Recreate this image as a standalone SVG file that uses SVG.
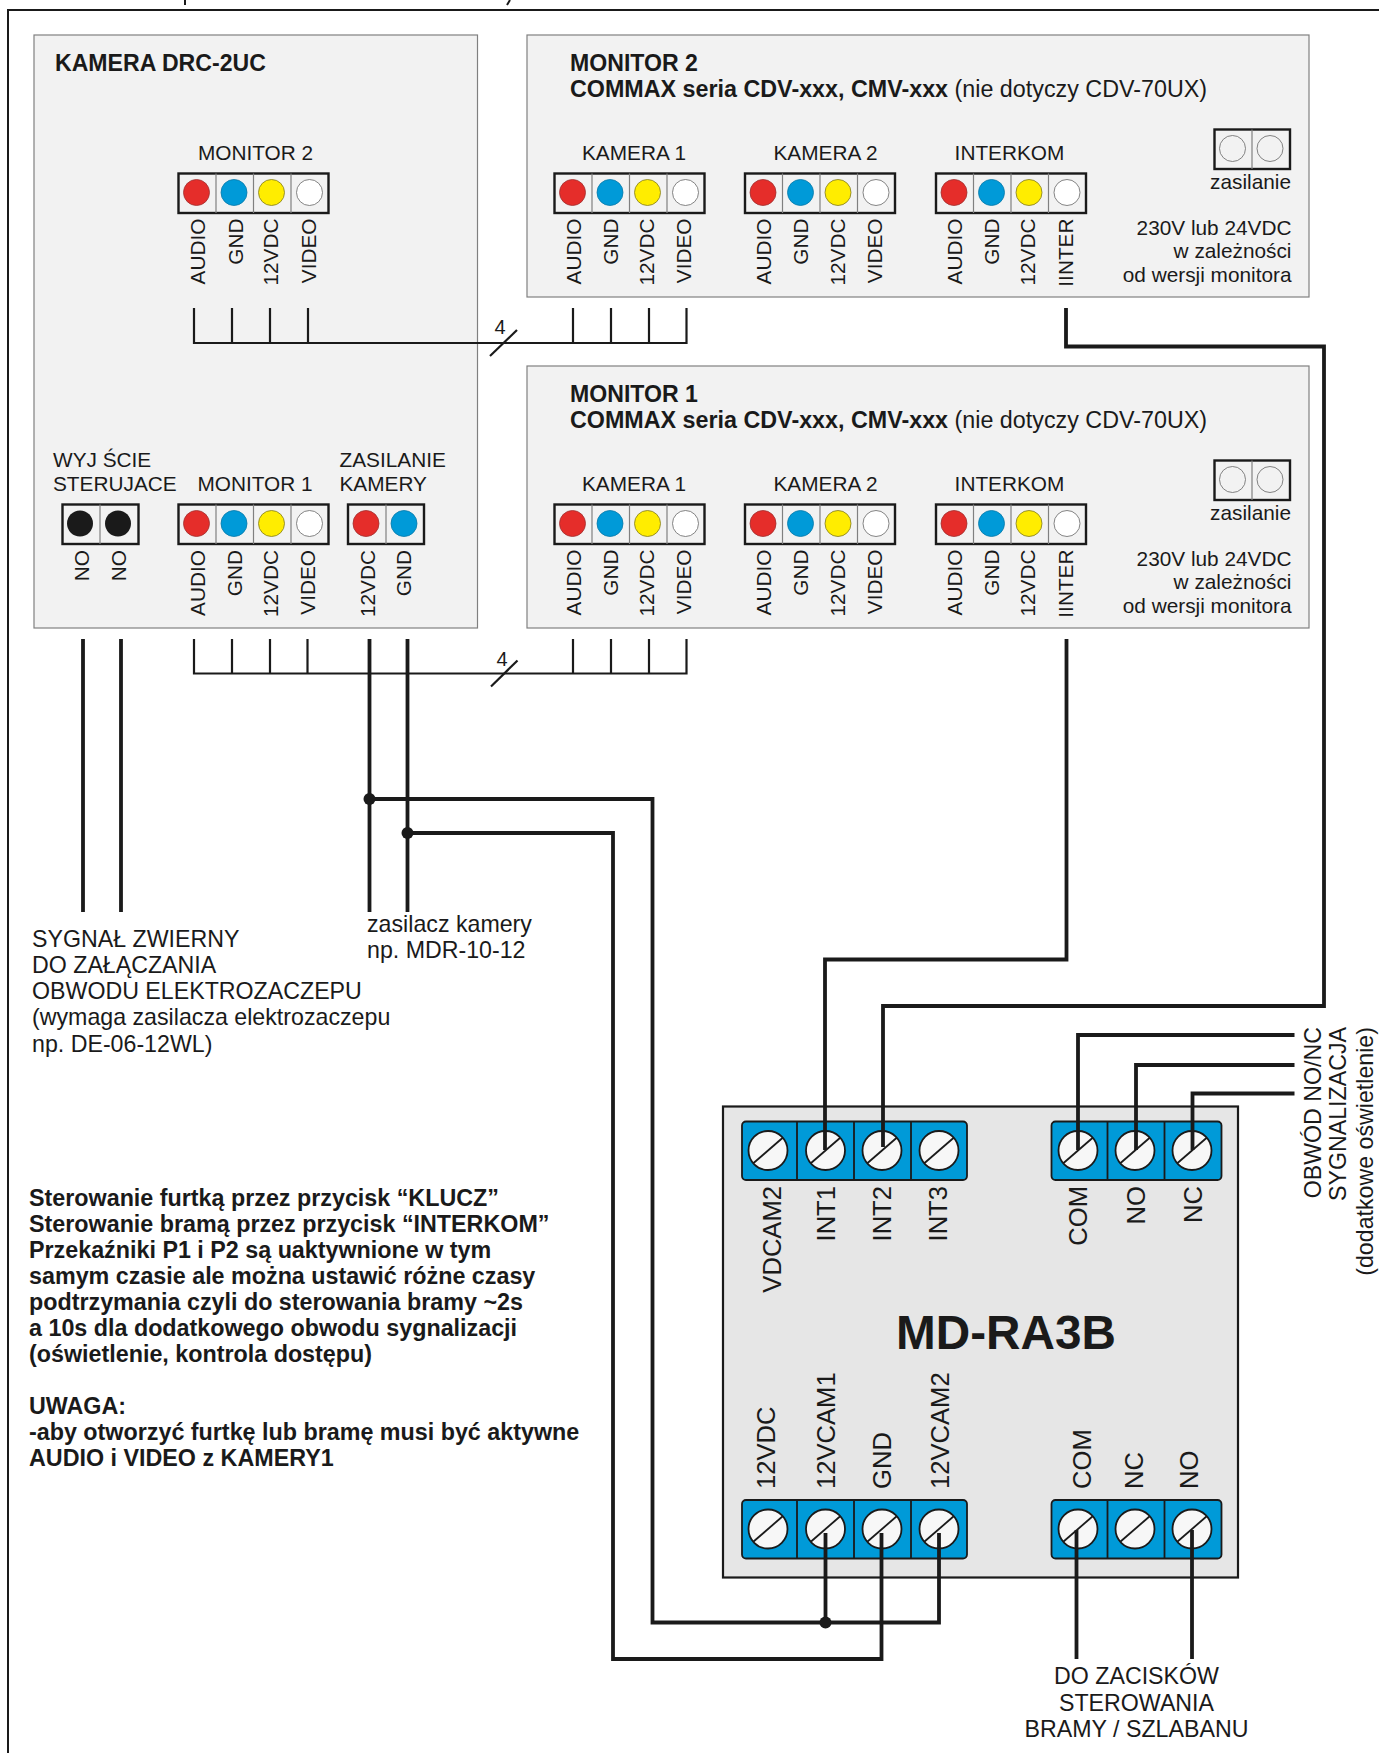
<svg xmlns="http://www.w3.org/2000/svg" width="1379" height="1753" viewBox="0 0 1379 1753">
<style>
text{font-family:"Liberation Sans",Arial,sans-serif;fill:#1a1a1a;font-size:20.8px}
.t{font-weight:bold;font-size:23.1px}
.b{font-weight:bold;font-size:23.3px}
.m{text-anchor:middle}
.e{text-anchor:end}
.s{font-size:25.6px}
.l{font-size:23.2px}
.box{fill:#f2f2f2;stroke:#808080;stroke-width:1.2}
.w{fill:none;stroke:#1a1a1a;stroke-width:3.8}
.n{fill:none;stroke:#1a1a1a;stroke-width:2.2}
.frame{fill:#f2f2f2;stroke:#1a1a1a;stroke-width:2.4}
.div{stroke:#808080;stroke-width:1.2}
.blk{fill:#009ad8;stroke:#1a1a1a;stroke-width:1.8}
.bd{stroke:#1a1a1a;stroke-width:1.8}
.red{fill:#e52d2a;stroke:#a03030;stroke-width:.8}
.blu{fill:#009ad8;stroke:#0878a8;stroke-width:.8}
.yel{fill:#ffed00;stroke:#807a20;stroke-width:.8}
.wht{fill:#fff;stroke:#666;stroke-width:.8}
.blc{fill:#1a1a1a}
.emp{fill:#f2f2f2;stroke:#666;stroke-width:.8}
</style>
<defs>
<g id="pin4">
<rect class="frame" x="0" y="0" width="150" height="39.5"/>
<path class="div" d="M37.5 0V39.5M75 0V39.5M112.5 0V39.5"/>
<circle class="red" cx="18" cy="19" r="13"/>
<circle class="blu" cx="55.5" cy="19" r="13"/>
<circle class="yel" cx="93" cy="19" r="13"/>
<circle class="wht" cx="131" cy="19" r="13"/>
</g>
<g id="pwr">
<rect class="frame" x="0" y="0" width="75.5" height="39.5"/>
<path class="div" d="M37.5 0V39.5"/>
<circle class="emp" cx="18" cy="19" r="13"/>
<circle class="emp" cx="55.5" cy="19" r="13"/>
</g>
<g id="screw">
<circle cx="0" cy="0" r="19.5" fill="#f7f7f7" stroke="#1a1a1a" stroke-width="1.8"/>
<path d="M-15 13L15 -13" stroke="#1a1a1a" stroke-width="1.8"/>
</g>
</defs>
<rect width="1379" height="1753" fill="#fff"/>
<g id="frame">
<path d="M8 1753V10H1379" fill="none" stroke="#1a1a1a" stroke-width="2"/>
<path d="M185 0V5M510 0L507 5" fill="none" stroke="#1a1a1a" stroke-width="2"/>
</g>

<g id="kamera">
<rect class="box" x="34" y="35" width="443.5" height="593"/>
<text class="t" x="55" y="71">KAMERA DRC-2UC</text>
<text class="m" x="255.5" y="160">MONITOR 2</text>
<use href="#pin4" x="178.5" y="173.5"/>
<text class="e" transform="translate(205,218.5) rotate(-90)">AUDIO</text>
<text class="e" transform="translate(242.5,218.5) rotate(-90)">GND</text>
<text class="e" transform="translate(278,218.5) rotate(-90)">12VDC</text>
<text class="e" transform="translate(315.5,218.5) rotate(-90)">VIDEO</text>
<text x="53" y="467">WYJ ŚCIE</text>
<text x="53" y="491">STERUJACE</text>
<text class="m" x="255" y="491">MONITOR 1</text>
<text x="339.5" y="467">ZASILANIE</text>
<text x="339.5" y="491">KAMERY</text>
<rect class="frame" x="62.5" y="504.5" width="76" height="39.5"/>
<path class="div" d="M100 504.5V544"/>
<circle class="blc" cx="80" cy="523.5" r="13"/>
<circle class="blc" cx="118" cy="523.5" r="13"/>
<text class="e" transform="translate(88.5,550) rotate(-90)">NO</text>
<text class="e" transform="translate(125.5,550) rotate(-90)">NO</text>
<use href="#pin4" x="178.5" y="504.5"/>
<text class="e" transform="translate(205,550) rotate(-90)">AUDIO</text>
<text class="e" transform="translate(241.5,550) rotate(-90)">GND</text>
<text class="e" transform="translate(278,550) rotate(-90)">12VDC</text>
<text class="e" transform="translate(315,550) rotate(-90)">VIDEO</text>
<rect class="frame" x="348" y="504.5" width="76" height="39.5"/>
<path class="div" d="M386 504.5V544"/>
<circle class="red" cx="366" cy="523.5" r="13"/>
<circle class="blu" cx="404" cy="523.5" r="13"/>
<text class="e" transform="translate(374.5,550) rotate(-90)">12VDC</text>
<text class="e" transform="translate(411,550) rotate(-90)">GND</text>
</g>

<g id="monitor2">
<rect class="box" x="527" y="35" width="782" height="262"/>
<text class="t" x="570" y="71">MONITOR 2</text>
<text x="570" y="97" style="font-size:23.3px"><tspan style="font-weight:bold">COMMAX seria CDV-xxx, CMV-xxx</tspan> (nie dotyczy CDV-70UX)</text>
<text class="m" x="634" y="160">KAMERA 1</text>
<text class="m" x="825.5" y="160">KAMERA 2</text>
<text class="m" x="1009.5" y="160">INTERKOM</text>
<use href="#pin4" x="554.5" y="173.5"/>
<use href="#pin4" x="745" y="173.5"/>
<use href="#pin4" x="936" y="173.5"/>
<text class="e" transform="translate(580.5,218.5) rotate(-90)">AUDIO</text>
<text class="e" transform="translate(617.5,218.5) rotate(-90)">GND</text>
<text class="e" transform="translate(654,218.5) rotate(-90)">12VDC</text>
<text class="e" transform="translate(691,218.5) rotate(-90)">VIDEO</text>
<text class="e" transform="translate(771,218.5) rotate(-90)">AUDIO</text>
<text class="e" transform="translate(808,218.5) rotate(-90)">GND</text>
<text class="e" transform="translate(844.5,218.5) rotate(-90)">12VDC</text>
<text class="e" transform="translate(881.5,218.5) rotate(-90)">VIDEO</text>
<text class="e" transform="translate(961.5,218.5) rotate(-90)">AUDIO</text>
<text class="e" transform="translate(998.5,218.5) rotate(-90)">GND</text>
<text class="e" transform="translate(1035,218.5) rotate(-90)">12VDC</text>
<text class="e" transform="translate(1072.5,218.5) rotate(-90)">IINTER</text>
<use href="#pwr" x="1214.5" y="129.5"/>
<text class="e" x="1291" y="189">zasilanie</text>
<text class="e" x="1291.5" y="235">230V lub 24VDC</text>
<text class="e" x="1291.5" y="258">w zależności</text>
<text class="e" x="1291.5" y="282">od wersji monitora</text>
</g>

<g id="monitor1">
<rect class="box" x="527" y="366" width="782" height="262"/>
<text class="t" x="570" y="402">MONITOR 1</text>
<text x="570" y="428" style="font-size:23.3px"><tspan style="font-weight:bold">COMMAX seria CDV-xxx, CMV-xxx</tspan> (nie dotyczy CDV-70UX)</text>
<text class="m" x="634" y="491">KAMERA 1</text>
<text class="m" x="825.5" y="491">KAMERA 2</text>
<text class="m" x="1009.5" y="491">INTERKOM</text>
<use href="#pin4" x="554.5" y="504.5"/>
<use href="#pin4" x="745" y="504.5"/>
<use href="#pin4" x="936" y="504.5"/>
<text class="e" transform="translate(580.5,549.5) rotate(-90)">AUDIO</text>
<text class="e" transform="translate(617.5,549.5) rotate(-90)">GND</text>
<text class="e" transform="translate(654,549.5) rotate(-90)">12VDC</text>
<text class="e" transform="translate(691,549.5) rotate(-90)">VIDEO</text>
<text class="e" transform="translate(771,549.5) rotate(-90)">AUDIO</text>
<text class="e" transform="translate(808,549.5) rotate(-90)">GND</text>
<text class="e" transform="translate(844.5,549.5) rotate(-90)">12VDC</text>
<text class="e" transform="translate(881.5,549.5) rotate(-90)">VIDEO</text>
<text class="e" transform="translate(961.5,549.5) rotate(-90)">AUDIO</text>
<text class="e" transform="translate(998.5,549.5) rotate(-90)">GND</text>
<text class="e" transform="translate(1035,549.5) rotate(-90)">12VDC</text>
<text class="e" transform="translate(1072.5,549.5) rotate(-90)">IINTER</text>
<use href="#pwr" x="1214.5" y="460.5"/>
<text class="e" x="1291" y="520">zasilanie</text>
<text class="e" x="1291.5" y="566">230V lub 24VDC</text>
<text class="e" x="1291.5" y="589">w zależności</text>
<text class="e" x="1291.5" y="613">od wersji monitora</text>
</g>

<g id="md-ra3b">
<rect x="723" y="1106.5" width="515" height="471" fill="#e6e6e6" stroke="#1a1a1a" stroke-width="2.2"/>
<text x="1006" y="1349" class="m" style="font-weight:bold;font-size:47.7px">MD-RA3B</text>
<rect class="blk" x="742" y="1121.5" width="225" height="58.5" rx="4"/>
<path class="bd" d="M797 1121.5V1180M854 1121.5V1180M911 1121.5V1180"/>
<rect class="blk" x="1051.5" y="1121.5" width="170" height="58.5" rx="4"/>
<path class="bd" d="M1107.5 1121.5V1180M1164.5 1121.5V1180"/>
<rect class="blk" x="742" y="1500" width="225" height="58.5" rx="4"/>
<path class="bd" d="M797 1500V1558.5M854 1500V1558.5M911 1500V1558.5"/>
<rect class="blk" x="1051.5" y="1500" width="170" height="58.5" rx="4"/>
<path class="bd" d="M1107.5 1500V1558.5M1164.5 1500V1558.5"/>
<use href="#screw" x="768" y="1150.5"/>
<use href="#screw" x="825.5" y="1150.5"/>
<use href="#screw" x="882" y="1150.5"/>
<use href="#screw" x="939" y="1150.5"/>
<use href="#screw" x="1078" y="1150.5"/>
<use href="#screw" x="1135" y="1150.5"/>
<use href="#screw" x="1192" y="1150.5"/>
<use href="#screw" x="768" y="1529"/>
<use href="#screw" x="825.5" y="1529"/>
<use href="#screw" x="882" y="1529"/>
<use href="#screw" x="939" y="1529"/>
<use href="#screw" x="1078" y="1529"/>
<use href="#screw" x="1135" y="1529"/>
<use href="#screw" x="1192" y="1529"/>
<text class="s e" transform="translate(780.5,1186) rotate(-90)">VDCAM2</text>
<text class="s e" transform="translate(835,1186) rotate(-90)">INT1</text>
<text class="s e" transform="translate(890.5,1186) rotate(-90)">INT2</text>
<text class="s e" transform="translate(947,1186) rotate(-90)">INT3</text>
<text class="s e" transform="translate(1087,1186) rotate(-90)">COM</text>
<text class="s e" transform="translate(1145,1186) rotate(-90)">NO</text>
<text class="s e" transform="translate(1202,1186) rotate(-90)">NC</text>
<text class="s" transform="translate(774.5,1489) rotate(-90)">12VDC</text>
<text class="s" transform="translate(834.5,1489) rotate(-90)">12VCAM1</text>
<text class="s" transform="translate(890.5,1489) rotate(-90)">GND</text>
<text class="s" transform="translate(949,1489) rotate(-90)">12VCAM2</text>
<text class="s" transform="translate(1090.5,1489) rotate(-90)">COM</text>
<text class="s" transform="translate(1143,1489) rotate(-90)">NC</text>
<text class="s" transform="translate(1198,1489) rotate(-90)">NO</text>
</g>

<g id="connectors">
<path class="n" d="M194 308V343H686.5V308M232 308V343M270 308V343M308 308V343M573 308V343M611 308V343M649 308V343"/>
<path class="n" d="M490 356L517 330"/>
<path class="n" d="M194 639V673.5H686.5V639M232 639V673.5M270 639V673.5M307.5 639V673.5M573 639V673.5M611 639V673.5M649 639V673.5"/>
<path class="n" d="M491 686.5L517.5 660.5"/>
<path class="w" d="M1066 308V346.5H1324V1006H883V1147"/>
<path class="w" d="M1066.5 639V959.5H825V1150"/>
<path class="w" d="M83 639V912M121 639V912M369.5 639V912M407.5 639V912"/>
<path class="w" d="M369.5 799H652.5V1622.5H939V1533"/>
<path class="w" d="M407.5 833H613V1659H881.5V1533"/>
<path class="w" d="M825.5 1533V1622.5"/>
<path class="w" d="M1294.5 1035H1078V1150M1294.5 1065H1136V1150M1294.5 1093.5H1192.5V1150"/>
<path class="w" d="M1076.5 1530V1659M1192 1530V1659"/>
<circle class="blc" cx="369.5" cy="799" r="6"/>
<circle class="blc" cx="407.5" cy="833" r="6"/>
<circle class="blc" cx="825.5" cy="1622.5" r="6"/>
</g>

<g id="labels">
<text style="font-size:20px" class="m" x="500" y="334">4</text>
<text style="font-size:20px" class="m" x="502" y="665.5">4</text>
<text class="l" x="32" y="947">SYGNAŁ ZWIERNY</text>
<text class="l" x="32" y="973">DO ZAŁĄCZANIA</text>
<text class="l" x="32" y="999">OBWODU ELEKTROZACZEPU</text>
<text class="l" x="32" y="1025">(wymaga zasilacza elektrozaczepu</text>
<text class="l" x="32" y="1051.5">np. DE-06-12WL)</text>
<text class="l" x="367" y="932">zasilacz kamery</text>
<text class="l" x="367" y="958">np. MDR-10-12</text>
<text class="b" x="29" y="1205.5">Sterowanie furtką przez przycisk “KLUCZ”</text>
<text class="b" x="29" y="1231.5">Sterowanie bramą przez przycisk “INTERKOM”</text>
<text class="b" x="29" y="1257.5">Przekaźniki P1 i P2 są uaktywnione w tym</text>
<text class="b" x="29" y="1284">samym czasie ale można ustawić różne czasy</text>
<text class="b" x="29" y="1310">podtrzymania czyli do sterowania bramy ~2s</text>
<text class="b" x="29" y="1335.5">a 10s dla dodatkowego obwodu sygnalizacji</text>
<text class="b" x="29" y="1361.5">(oświetlenie, kontrola dostępu)</text>
<text class="b" x="29" y="1414">UWAGA:</text>
<text class="b" x="29" y="1440">-aby otworzyć furtkę lub bramę musi być aktywne</text>
<text class="b" x="29" y="1466">AUDIO i VIDEO z KAMERY1</text>
<text class="l e" transform="translate(1321,1027) rotate(-90)">OBWÓD NO/NC</text>
<text class="l e" transform="translate(1346,1027) rotate(-90)">SYGNALIZACJA</text>
<text class="l e" transform="translate(1373,1027) rotate(-90)">(dodatkowe oświetlenie)</text>
<text class="l m" x="1136.5" y="1684">DO ZACISKÓW</text>
<text class="l m" x="1136.5" y="1710.5">STEROWANIA</text>
<text class="l m" x="1136.5" y="1736.5">BRAMY / SZLABANU</text>
</g>
</svg>
